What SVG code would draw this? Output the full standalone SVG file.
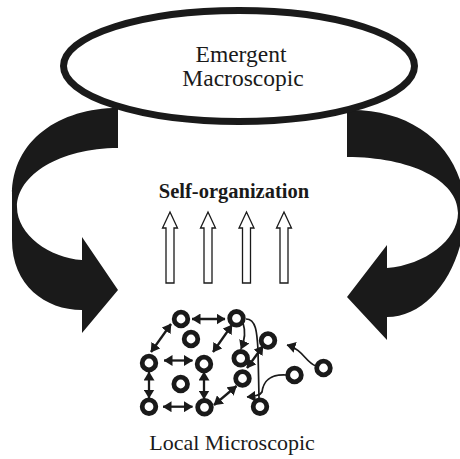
<svg xmlns="http://www.w3.org/2000/svg" xmlns:xlink="http://www.w3.org/1999/xlink" width="460" height="459" viewBox="0 0 460 459">
<style>
.serif{font-family:"Liberation Serif","Times New Roman",serif;fill:#1a1a1a;text-anchor:middle}
.big{fill:#1a1a1a;stroke:none}
.node{fill:#fff;stroke:#1a1a1a;stroke-width:4.8}
.dbl{fill:none;stroke:#1a1a1a;stroke-width:2.3;marker-start:url(#ah);marker-end:url(#ah)}
.one{fill:none;stroke:#1a1a1a;stroke-width:1.7;marker-end:url(#ah)}
.plain{fill:none;stroke:#1a1a1a;stroke-width:1.7}
.up{fill:#fff;stroke:#1a1a1a;stroke-width:1.3}
</style>
<defs>
<marker id="ah" markerUnits="userSpaceOnUse" viewBox="0 0 9 11" markerWidth="9" markerHeight="11" refX="8.5" refY="5.5" orient="auto-start-reverse">
<path d="M0,0 L9,5.5 L0,11 z" fill="#1a1a1a"/>
</marker>
<polygon id="uparrow" points="0,212 7.5,228 4,228 4,283 -4,283 -4,228 -7.5,228"/>
</defs>
<rect width="460" height="459" fill="#fff"/>

<g id="feedback-left">
<path class="big" d="M118,108 C60,108 12,140 12,195 L12,240 C12,285 45,310 82,310 L82,333 L118,290 L82,237 L82,260 C50,258 17,235 17,207 C17,175 60,148 118,148 Z"/>
</g>
<g id="feedback-right">
<path class="big" d="M347,110 C415,108 465,150 465,213 C463,270 428,317 387,317 L387,340 L347,297 L387,245 L387,268 C425,265 458,240 458,213 C458,180 410,157 347,157 Z"/>
</g>

<g id="macro">
<ellipse cx="239" cy="66" rx="175.5" ry="55.5" fill="#fff" stroke="#1a1a1a" stroke-width="7"/>
<text class="serif" x="241" y="62" font-size="23.5">Emergent</text>
<text class="serif" x="243" y="86" font-size="23.5">Macroscopic</text>
</g>

<g id="self-organization">
<text class="serif" x="234" y="198" font-size="20.5" font-weight="bold">Self-organization</text>
<use xlink:href="#uparrow" href="#uparrow" class="up" x="170"/>
<use xlink:href="#uparrow" href="#uparrow" class="up" x="208"/>
<use xlink:href="#uparrow" href="#uparrow" class="up" x="246.5"/>
<use xlink:href="#uparrow" href="#uparrow" class="up" x="284"/>
</g>

<g id="connectors">
<line class="dbl" x1="192" y1="319" x2="225" y2="319"/>
<line class="dbl" x1="171" y1="324" x2="151" y2="352"/>
<line class="dbl" x1="232" y1="325" x2="213" y2="352"/>
<line class="dbl" x1="164" y1="360.5" x2="192.5" y2="360.5"/>
<line class="dbl" x1="149" y1="372" x2="149" y2="398"/>
<line class="dbl" x1="204" y1="372" x2="204" y2="399"/>
<line class="dbl" x1="163" y1="406.7" x2="192.5" y2="406.7"/>
<line class="dbl" x1="214" y1="405" x2="236.5" y2="386"/>
<line class="dbl" x1="247" y1="368" x2="263" y2="346"/>
<path class="one" d="M243,323 Q247,335 241,349"/>
<path class="plain" d="M246,319 C256,319 257,332 258,350 L259,398"/>
<path class="one" d="M286,375 C266,374 263,385 262,392 Q260,396 247,397"/>
<path class="one" d="M316,366 C305,362 304,350 287,345"/>
</g>

<g id="nodes">
<circle id="n1" class="node" cx="181" cy="319" r="6.8"/>
<circle id="n2" class="node" cx="236.5" cy="318.3" r="6.8"/>
<circle id="n3" class="node" cx="191" cy="339" r="6.8"/>
<circle id="n4" class="node" cx="268" cy="340.5" r="6.8"/>
<circle id="n5" class="node" cx="149" cy="363" r="6.8"/>
<circle id="n6" class="node" cx="204" cy="364" r="6.8"/>
<circle id="n7" class="node" cx="240.7" cy="358.3" r="6.8"/>
<circle id="n8" class="node" cx="323.5" cy="368" r="6.8"/>
<circle id="n9" class="node" cx="294.5" cy="375" r="6.8"/>
<circle id="n10" class="node" cx="242.5" cy="378.5" r="6.8"/>
<circle id="n11" class="node" cx="180.7" cy="384" r="6.8"/>
<circle id="n12" class="node" cx="149" cy="406.7" r="6.8"/>
<circle id="n13" class="node" cx="204.5" cy="407.3" r="6.8"/>
<circle id="n14" class="node" cx="260" cy="406.7" r="6.8"/>
</g>

<g id="micro">
<text class="serif" x="232" y="450" font-size="22">Local Microscopic</text>
</g>
</svg>
